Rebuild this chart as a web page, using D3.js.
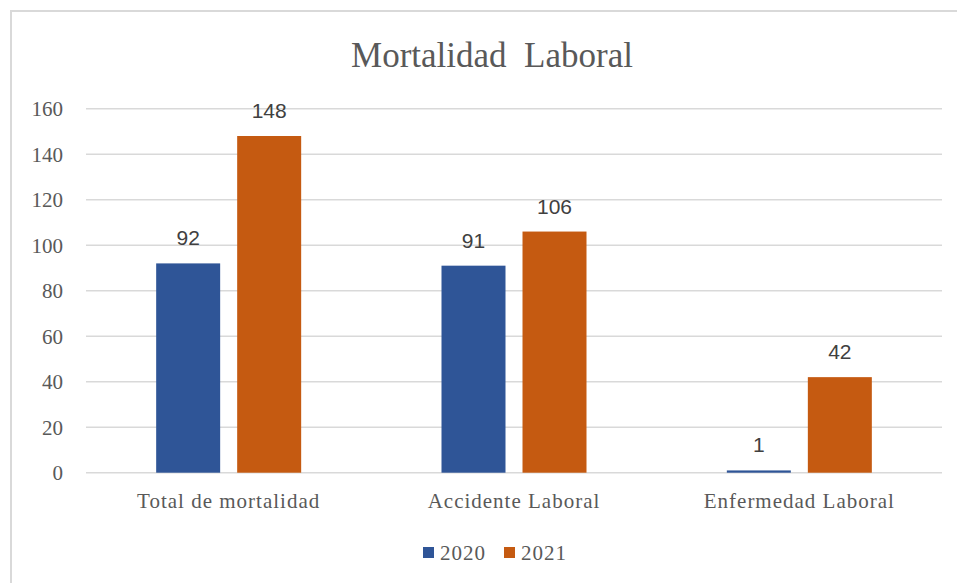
<!DOCTYPE html>
<html>
<head>
<meta charset="utf-8">
<script src="https://cdn.jsdelivr.net/npm/d3@7"></script>
<style>
  html, body { margin: 0; padding: 0; background: #fff; overflow: hidden; }
</style>
</head>
<body>
<div id="chart"></div>
<script>
var categories = ["Total de mortalidad", "Accidente Laboral", "Enfermedad Laboral"],
	seriesNames = ["2020", "2021"],
	values2020 = [92, 91, 1],
	values2021 = [148, 106, 42],
	yTicks = [0, 20, 40, 60, 80, 100, 120, 140, 160],
	colors = ["#2f5597", "#c55a11"];

var width = 957,
	height = 583,
	plot = {left: 86, right: 942, top: 108.7, bottom: 472.7};

var svg = d3.select("#chart").append("svg")
	.attr("width", width)
	.attr("height", height);

// chart frame, only top and left edges fall inside the window
svg.append("rect")
	.attr("x", 11).attr("y", 11)
	.attr("width", 1000).attr("height", 700)
	.attr("fill", "#fff")
	.attr("stroke", "#d9d9d9")
	.attr("stroke-width", 2);

svg.append("text")
	.attr("x", 492).attr("y", 67)
	.attr("text-anchor", "middle")
	.style("font-family", "'Liberation Serif', 'Times New Roman', serif")
	.style("font-size", "35px")
	.style("fill", "#595959")
	.style("white-space", "pre")
	.text("Mortalidad  Laboral");

var y = d3.scaleLinear().domain([0, 160]).range([plot.bottom, plot.top]);

var x0 = d3.scaleBand().domain(categories).range([plot.left, plot.right]);
var x1 = d3.scaleBand().domain(seriesNames).range([0, 145]).paddingInner(0.21);
var groupOffset = (x0.bandwidth() - 145) / 2;

// gridlines
svg.append("g")
	.selectAll("line")
	.data(yTicks)
	.enter().append("line")
	.attr("x1", plot.left).attr("x2", plot.right)
	.attr("y1", function(d) { return y(d); })
	.attr("y2", function(d) { return y(d); })
	.attr("stroke", "#d9d9d9")
	.attr("stroke-width", 1.5);

// y labels
svg.append("g")
	.selectAll("text")
	.data(yTicks)
	.enter().append("text")
	.attr("x", 63)
	.attr("y", function(d) { return y(d); })
	.attr("dy", "0.35em")
	.attr("text-anchor", "end")
	.style("font-family", "'Liberation Serif', 'Times New Roman', serif")
	.style("font-size", "21px")
	.style("fill", "#595959")
	.text(function(d) { return d; });

var rows = categories.map(function(c, i) {
	return {cat: c, vals: [values2020[i], values2021[i]]};
});

var groups = svg.selectAll(".group")
	.data(rows)
	.enter().append("g")
	.attr("class", "group")
	.attr("transform", function(d) { return "translate(" + (x0(d.cat) + groupOffset) + ",0)"; });

groups.selectAll("rect")
	.data(function(d) { return d.vals.map(function(v, k) { return {s: seriesNames[k], v: v, k: k}; }); })
	.enter().append("rect")
	.attr("x", function(d) { return x1(d.s); })
	.attr("width", x1.bandwidth())
	.attr("y", function(d) { return y(d.v); })
	.attr("height", function(d) { return y(0) - y(d.v); })
	.attr("fill", function(d) { return colors[d.k]; });

groups.selectAll("text")
	.data(function(d) { return d.vals.map(function(v, k) { return {s: seriesNames[k], v: v}; }); })
	.enter().append("text")
	.attr("x", function(d) { return x1(d.s) + x1.bandwidth() / 2; })
	.attr("y", function(d) { return y(d.v) - 18; })
	.attr("text-anchor", "middle")
	.style("font-family", "'Liberation Sans', Arial, sans-serif")
	.style("font-size", "21px")
	.style("fill", "#404040")
	.text(function(d) { return d.v; });

// category labels
svg.append("g")
	.selectAll("text")
	.data(categories)
	.enter().append("text")
	.attr("x", function(d) { return x0(d) + x0.bandwidth() / 2; })
	.attr("y", 508)
	.attr("text-anchor", "middle")
	.style("font-family", "'Liberation Serif', 'Times New Roman', serif")
	.style("font-size", "21px")
	.style("letter-spacing", "1px")
	.style("fill", "#595959")
	.text(function(d) { return d; });

// legend
var legendX = [423, 504];
var legend = svg.append("g")
	.selectAll("g")
	.data(seriesNames)
	.enter().append("g")
	.attr("transform", function(d, i) { return "translate(" + legendX[i] + ",547)"; });

legend.append("rect")
	.attr("width", 11).attr("height", 11)
	.attr("fill", function(d, i) { return colors[i]; });

legend.append("text")
	.attr("x", 17).attr("y", 13)
	.style("font-family", "'Liberation Serif', 'Times New Roman', serif")
	.style("font-size", "21px")
	.style("letter-spacing", "1px")
	.style("fill", "#595959")
	.text(function(d) { return d; });
</script>
</body>
</html>
